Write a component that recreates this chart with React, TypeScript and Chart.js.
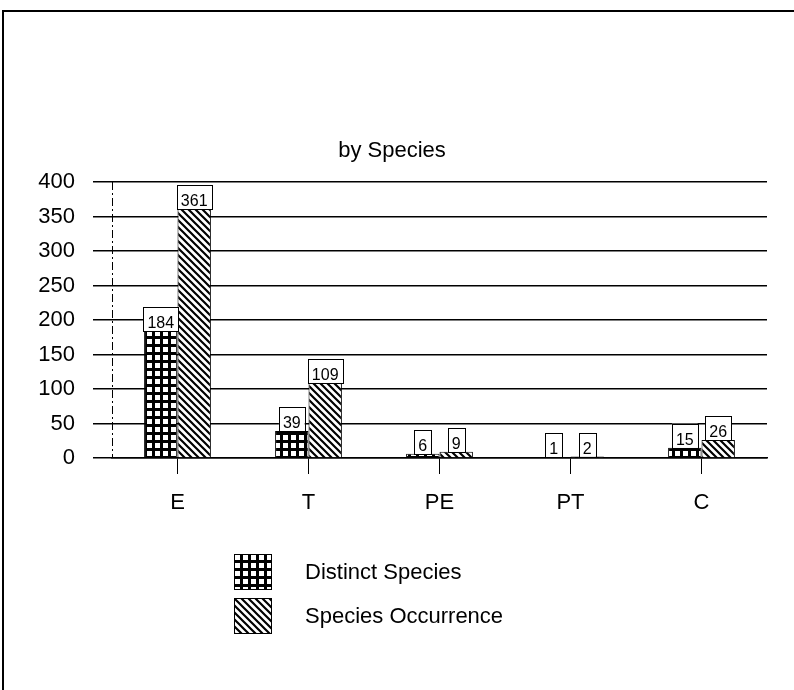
import React, { useEffect, useRef } from "react";
import { Chart, registerables } from "chart.js";

Chart.register(...registerables);

const categories = ["E", "T", "PE", "PT", "C"];
const distinctSpecies = [184, 39, 6, 1, 15];
const speciesOccurrence = [361, 109, 9, 2, 26];
const seriesNames = ["Distinct Species", "Species Occurrence"];
const titleText = "by Species";
const yMin = 0;
const yMax = 400;
const yStep = 50;

const FONT = "'Liberation Sans', Arial, Helvetica, sans-serif";

function makeGridPattern(ctx: CanvasRenderingContext2D): CanvasPattern | string {
  const c = document.createElement("canvas");
  c.width = 8;
  c.height = 8;
  const x = c.getContext("2d")!;
  x.fillStyle = "#fff";
  x.fillRect(0, 0, 8, 8);
  x.fillStyle = "#000";
  x.fillRect(0, 0, 8, 3);
  x.fillRect(0, 0, 3, 8);
  return ctx.createPattern(c, "repeat") || "#000";
}

function makeHatchPattern(ctx: CanvasRenderingContext2D): CanvasPattern | string {
  const s = 7;
  const c = document.createElement("canvas");
  c.width = s;
  c.height = s;
  const x = c.getContext("2d")!;
  x.fillStyle = "#fff";
  x.fillRect(0, 0, s, s);
  x.strokeStyle = "#000";
  x.lineWidth = 2.2;
  x.beginPath();
  for (const o of [-s, 0, s]) {
    x.moveTo(o - 1, -1);
    x.lineTo(o + s + 1, s + 1);
  }
  x.stroke();
  return ctx.createPattern(c, "repeat") || "#000";
}

export default function App() {
  const ref = useRef<HTMLCanvasElement | null>(null);

  useEffect(() => {
    const canvas = ref.current;
    if (!canvas) return;
    const ctx = canvas.getContext("2d")!;
    const gridPat = makeGridPattern(ctx);
    const hatchPat = makeHatchPattern(ctx);

    const framePlugin = {
      id: "frame",
      beforeDraw(chart: any) {
        const c = chart.ctx;
        c.save();
        c.fillStyle = "#fff";
        c.fillRect(0, 0, chart.width, chart.height);
        c.strokeStyle = "#000";
        c.lineWidth = 2;
        c.beginPath();
        c.moveTo(3, chart.height + 5);
        c.lineTo(3, 11);
        c.lineTo(chart.width + 5, 11);
        c.stroke();
        c.fillStyle = "#000";
        c.font = `22px ${FONT}`;
        c.textAlign = "center";
        c.textBaseline = "middle";
        c.fillText(titleText, 392, 151);
        c.restore();
      },
      beforeDatasetsDraw(chart: any) {
        const c = chart.ctx;
        const a = chart.chartArea;
        c.save();
        c.strokeStyle = "#000";
        c.lineWidth = 1;
        c.setLineDash([8, 3, 2, 3]);
        c.beginPath();
        c.moveTo(a.left + 0.5, a.top);
        c.lineTo(a.left + 0.5, a.bottom);
        c.stroke();
        c.restore();
      },
    };

    const labelPlugin = {
      id: "valueBoxes",
      afterDatasetsDraw(chart: any) {
        const c = chart.ctx;
        c.save();
        c.font = `16px ${FONT}`;
        chart.data.datasets.forEach((ds: any, di: number) => {
          const meta = chart.getDatasetMeta(di);
          meta.data.forEach((el: any, i: number) => {
            const txt = String(ds.data[i]);
            const tw = c.measureText(txt).width;
            const w = Math.max(tw + 8, 16);
            const h = 24;
            const x = el.x - w / 2;
            const y = el.y - h;
            c.fillStyle = "#fff";
            c.fillRect(x, y, w, h);
            c.strokeStyle = "#000";
            c.lineWidth = 1;
            c.strokeRect(Math.round(x) + 0.5, Math.round(y) + 0.5, Math.round(w), Math.round(h));
            c.fillStyle = "#000";
            c.textAlign = "center";
            c.textBaseline = "alphabetic";
            c.fillText(txt, el.x, el.y - 3);
          });
        });
        c.restore();
      },
    };

    const legendPlugin = {
      id: "customLegend",
      afterDraw(chart: any) {
        const c = chart.ctx;
        c.save();
        const items = [
          { name: seriesNames[0], fill: gridPat, y: 554 },
          { name: seriesNames[1], fill: hatchPat, y: 598 },
        ];
        items.forEach((it) => {
          c.fillStyle = it.fill as any;
          c.fillRect(234, it.y, 38, 36);
          c.strokeStyle = "#000";
          c.lineWidth = 1;
          c.strokeRect(234.5, it.y + 0.5, 37, 35);
          c.fillStyle = "#000";
          c.font = `22px ${FONT}`;
          c.textAlign = "left";
          c.textBaseline = "middle";
          c.fillText(it.name, 305, it.y + 19);
        });
        c.restore();
      },
    };

    const chart = new Chart(canvas, {
      type: "bar",
      data: {
        labels: categories,
        datasets: [
          {
            label: seriesNames[0],
            data: distinctSpecies,
            backgroundColor: gridPat as any,
            borderColor: "#000",
            borderWidth: 1,
            categoryPercentage: 0.51,
            barPercentage: 1.0,
          },
          {
            label: seriesNames[1],
            data: speciesOccurrence,
            backgroundColor: hatchPat as any,
            borderColor: "#000",
            borderWidth: 1,
            categoryPercentage: 0.51,
            barPercentage: 1.0,
          },
        ],
      },
      options: {
        responsive: false,
        animation: false,
        devicePixelRatio: 1,
        layout: { padding: { left: 0, right: 27, top: 182, bottom: 172 } },
        plugins: {
          legend: { display: false },
          title: { display: false },
          tooltip: { enabled: false },
        },
        scales: {
          x: {
            grid: {
              display: true,
              drawOnChartArea: false,
              offset: false,
              tickLength: 16,
              color: "#000",
              lineWidth: 1,
            },
            border: { display: true, color: "#000", width: 1.5 },
            ticks: { color: "#000", font: { family: FONT, size: 22 }, padding: 16 },
            afterFit: (s: any) => {
              s.height = 60;
            },
          },
          y: {
            min: yMin,
            max: yMax,
            ticks: {
              stepSize: yStep,
              color: "#000",
              font: { family: FONT, size: 22 },
              padding: 18,
            },
            grid: { color: "#000", lineWidth: 1.5, tickLength: 19, drawTicks: true },
            border: { display: false },
            afterFit: (s: any) => {
              s.width = 112;
            },
          },
        },
      },
      plugins: [framePlugin, labelPlugin, legendPlugin],
    });

    return () => chart.destroy();
  }, []);

  return (
    <div style={{ position: "absolute", left: 0, top: 0, width: 794, height: 690, background: "#fff" }}>
      <canvas ref={ref} width={794} height={690} style={{ display: "block" }} />
    </div>
  );
}
